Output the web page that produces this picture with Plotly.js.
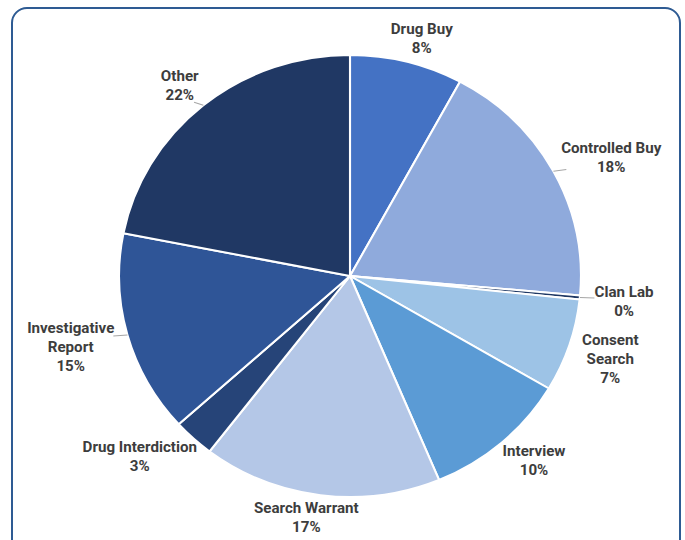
<!DOCTYPE html>
<html><head><meta charset="utf-8">
<script src="https://cdn.plot.ly/plotly-3.0.1.min.js"></script>
<style>
html,body{margin:0;padding:0;background:#fff;overflow:hidden;}
#frame{position:absolute;left:11px;top:7px;width:666px;height:545px;border:2.5px solid #2e5b93;border-radius:16px;pointer-events:none;z-index:5;}
#chart{position:absolute;left:0;top:0;width:685px;height:540px;transform:scaleX(1.045);transform-origin:350px 0;}
</style></head>
<body>
<div id="chart"></div>
<div id="frame"></div>
<script>
const categories = ["Drug Buy","Controlled Buy","Clan Lab","Consent Search","Interview","Search Warrant","Drug Interdiction","Investigative Report","Other"];
const shares = [7.9, 18.5, 0.3, 6.8, 10.2, 16.7, 2.9, 14.8, 21.9];
const pctLabels = ["8%","18%","0%","7%","10%","17%","3%","15%","22%"];
const nameLines = [["Drug Buy"],["Controlled Buy"],["Clan Lab"],["Consent","Search"],["Interview"],["Search Warrant"],["Drug Interdiction"],["Investigative","Report"],["Other"]];
const hasLeader = [false, true, true, false, false, false, false, true, true];
const colors = ["#4472c4","#8faadc","#1f3864","#9dc3e6","#5b9bd5","#b4c7e7","#264478","#2f5597","#203864"];

const FONT_SIZE = 14.5;
const FONT_FAMILY = 'Roboto, Arial, sans-serif';
const GAP_X = 14, GAP_Y = 4;
const soft = v => Math.sign(v) * Math.pow(Math.abs(v), 0.7);

const trace = {
  type: 'pie',
  labels: categories,
  values: shares,
  textinfo: 'none',
  sort: false,
  direction: 'clockwise',
  rotation: 0,
  marker: {colors: colors, line: {color: '#ffffff', width: 2}},
  domain: {x: [129/685, 571/685], y: [1-497/540, 1-55/540]},
  automargin: false,
  showlegend: false
};
const layout = {
  width: 685, height: 540,
  margin: {l:0, r:0, t:0, b:0},
  paper_bgcolor: 'rgba(0,0,0,0)',
  plot_bgcolor: 'rgba(0,0,0,0)',
  showlegend: false
};
const gd = document.getElementById('chart');
Plotly.newPlot(gd, [trace], layout, {displayModeBar: false, staticPlot: true}).then(() => {
  const cd = gd.calcdata[0];
  const cx = cd[0].cx, cy = cd[0].cy, r = cd[0].r;
  const W = gd._fullLayout.width, H = gd._fullLayout.height;
  const ctx = document.createElement('canvas').getContext('2d');
  ctx.font = 'bold ' + FONT_SIZE + 'px Roboto';
  const anns = [], shapes = [];
  cd.forEach(pt => {
    const i = pt.i;
    const ux = pt.pxmid[0] / r, uy = pt.pxmid[1] / r;
    const lines = nameLines[i].concat([pctLabels[i]]);
    const w = Math.max(...lines.map(s => ctx.measureText(s).width));
    const h = lines.length * FONT_SIZE * 1.3;
    const ax = cx + (r + GAP_X) * ux, ay = cy + (r + GAP_Y) * uy;
    anns.push({
      xref: 'paper', yref: 'paper', x: ax / W, y: 1 - ay / H,
      xanchor: 'center', yanchor: 'middle',
      xshift: soft(ux) * w / 2, yshift: -soft(uy) * h / 2,
      text: lines.map(s => '<b>' + s + '</b>').join('<br>'),
      showarrow: false, align: 'center',
      font: {family: FONT_FAMILY, size: FONT_SIZE, color: '#3d3d3d'}
    });
    if (hasLeader[i]) {
      shapes.push({
        type: 'line', xref: 'paper', yref: 'paper', layer: 'above',
        x0: (cx + r * ux) / W, y0: 1 - (cy + r * uy) / H,
        x1: ax / W, y1: 1 - ay / H,
        line: {color: '#a6a6a6', width: 1}
      });
    }
  });
  return Plotly.relayout(gd, {annotations: anns, shapes: shapes});
});
</script>
</body></html>
